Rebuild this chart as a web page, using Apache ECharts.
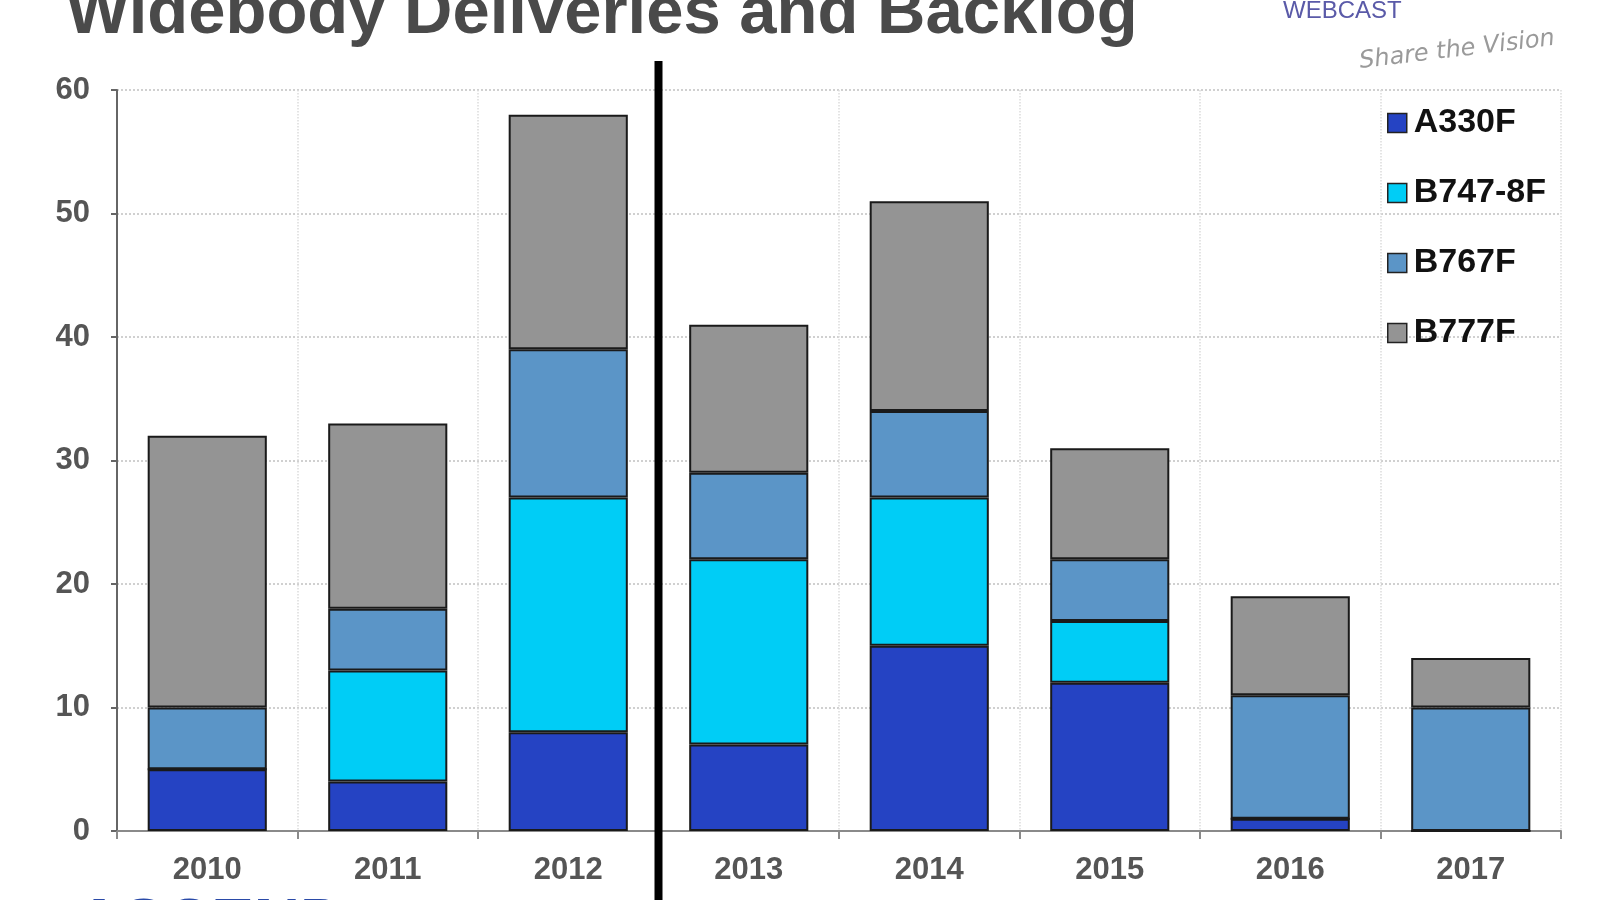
<!DOCTYPE html>
<html>

<head>
    <meta charset="utf-8">
    <title>Widebody Deliveries and Backlog</title>
    <style>
        html, body { margin: 0; padding: 0; background: #fff; }
        #main { width: 1600px; height: 900px; }
    </style>
</head>

<body>
    <div id="main"></div>
    <script src="https://cdn.jsdelivr.net/npm/echarts@6/dist/echarts.min.js" charset="utf-8"></script>
    <script>
    // data
    var years = ['2010', '2011', '2012', '2013', '2014', '2015', '2016', '2017'];
    var a330f = [5, 4, 8, 7, 15, 12, 1, 0];
    var b7478f = [0, 9, 19, 15, 12, 5, 0, 0];
    var b767f = [5, 5, 12, 7, 7, 5, 10, 10];
    var b777f = [22, 15, 19, 12, 17, 9, 8, 4];
    var yTicks = [0, 10, 20, 30, 40, 50, 60];

    var colors = {
        'A330F': '#2543c3',
        'B747-8F': '#00cdf6',
        'B767F': '#5b95c7',
        'B777F': '#949494'
    };

    var font = '"Liberation Sans", Arial, sans-serif';

    function bar(name, values) {
        return {
            name: name,
            type: 'bar',
            stack: 'total',
            barCategoryGap: '34%',
            data: values,
            itemStyle: {
                color: colors[name],
                borderColor: '#1a1a1a',
                borderWidth: 2
            }
        };
    }

    var myChart = echarts.init(document.getElementById('main'));
    var option = {
        animation: false,
        backgroundColor: '#fff',
        textStyle: { fontFamily: font },
        grid: { left: 117, right: 39, top: 90, bottom: 69 },
        legend: {
            orient: 'vertical',
            left: 1382,
            top: 101,
            icon: 'rect',
            itemWidth: 19,
            itemHeight: 19,
            itemGap: 36,
            itemStyle: { borderColor: '#222', borderWidth: 1.5 },
            textStyle: { fontSize: 34, fontWeight: 'bold', color: '#111', fontFamily: font, padding: [0, 0, 0, 2] },
            data: ['A330F', 'B747-8F', 'B767F', 'B777F']
        },
        xAxis: {
            type: 'category',
            data: years,
            axisLine: { lineStyle: { color: '#8a8a8a', width: 2 } },
            axisTick: { show: true, length: 8, lineStyle: { color: '#8a8a8a', width: 2 } },
            axisLabel: { fontSize: 31, fontWeight: 'bold', color: '#555', margin: 24, fontFamily: font },
            splitLine: { show: true, lineStyle: { color: '#dcdcdc', type: 'dotted', width: 1.5 } }
        },
        yAxis: {
            type: 'value',
            min: yTicks[0],
            max: yTicks[yTicks.length - 1],
            interval: 10,
            axisLine: { show: true, lineStyle: { color: '#666', width: 2 } },
            axisTick: { show: true, length: 6, lineStyle: { color: '#666', width: 2 } },
            axisLabel: { fontSize: 31, fontWeight: 'bold', color: '#555', margin: 27, fontFamily: font },
            splitLine: { show: true, lineStyle: { color: '#d0d0d0', type: 'dotted', width: 2 } }
        },
        series: [
            bar('A330F', a330f),
            bar('B747-8F', b7478f),
            bar('B767F', b767f),
            bar('B777F', b777f)
        ]
    };
    myChart.setOption(option);

    // divider between actual (2010-2012) and backlog years
    var x1 = myChart.convertToPixel({ xAxisIndex: 0 }, '2012');
    var x2 = myChart.convertToPixel({ xAxisIndex: 0 }, '2013');
    var divX = (x1 + x2) / 2;

    myChart.setOption({
        graphic: [
            {
                type: 'line',
                shape: { x1: divX, y1: 61, x2: divX, y2: 900 },
                style: { stroke: '#000', lineWidth: 8 },
                z: 100
            },
            {
                type: 'text',
                left: 66,
                top: -19,
                style: {
                    text: 'Widebody Deliveries and Backlog',
                    font: 'bold 67px ' + font,
                    fill: '#4a4a4a'
                }
            },
            {
                type: 'text',
                left: 1283,
                top: -1,
                style: {
                    text: 'WEBCAST',
                    font: '24px ' + font,
                    fill: '#5a5aa8'
                }
            },
            {
                type: 'text',
                x: 1358,
                y: 50,
                rotation: 0.12,
                style: {
                    text: 'Share the Vision',
                    font: 'italic 24px "DejaVu Sans", sans-serif',
                    fill: '#9a9a9a'
                }
            },
            {
                type: 'text',
                left: 76,
                top: 894,
                style: {
                    text: 'ASCEND',
                    font: 'bold 64px ' + font,
                    fill: '#2a4aa8'
                }
            }
        ]
    });
    </script>
</body>

</html>
